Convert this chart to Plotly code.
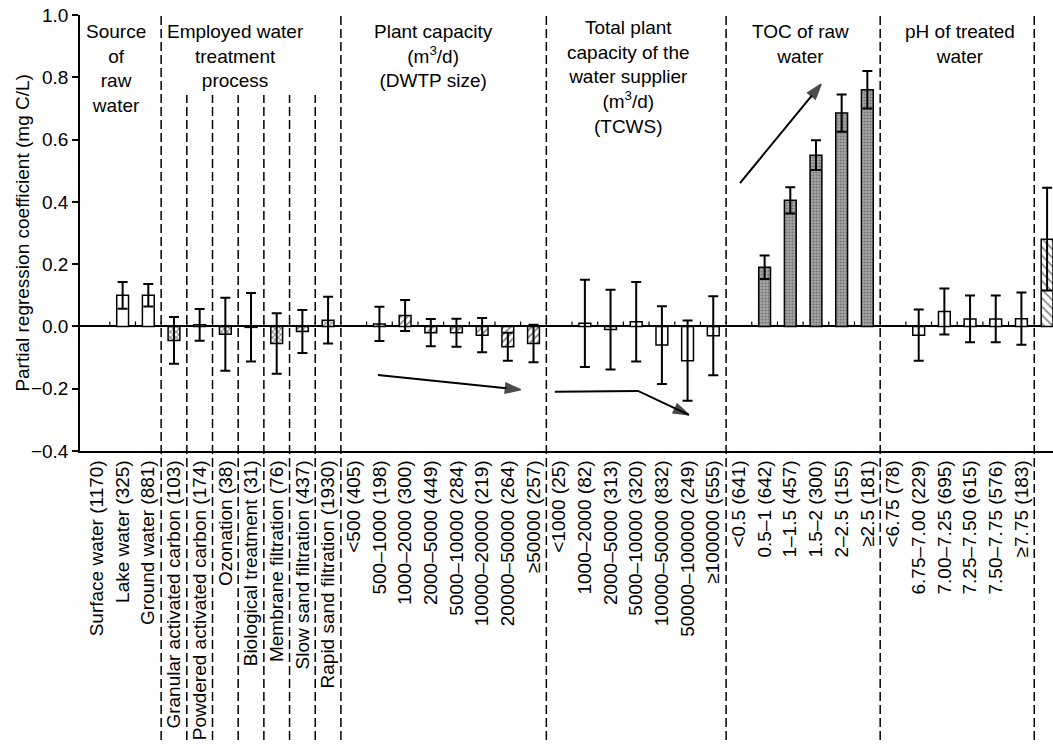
import plotly.graph_objects as go

FONT = "Liberation Sans, Arial, Helvetica, sans-serif"

# ---- Data: partial regression coefficients (mg C/L) with error half-widths ----
# None marks the reference category of each variable (no bar drawn)
source_labels = ["Surface water (1170)", "Lake water (325)", "Ground water (881)"]
source_coef = [None, 0.10, 0.10]
source_err = [None, 0.043, 0.036]

process_labels = ["Granular activated carbon (103)", "Powdered activated carbon (174)",
                  "Ozonation (38)", "Biological treatment (31)", "Membrane filtration (76)",
                  "Slow sand filtration (437)", "Rapid sand filtration (1930)"]
process_coef = [-0.045, 0.005, -0.025, -0.003, -0.055, -0.016, 0.02]
process_err = [0.075, 0.051, 0.117, 0.11, 0.097, 0.069, 0.075]

capacity_labels = ["<500 (405)", "500–1000 (198)", "1000–2000 (300)", "2000–5000 (449)",
                   "5000–10000 (284)", "10000–20000 (219)", "20000–50000 (264)", "≥50000 (257)"]
capacity_coef = [None, 0.008, 0.035, -0.02, -0.02, -0.028, -0.065, -0.055]
capacity_err = [None, 0.055, 0.05, 0.044, 0.045, 0.055, 0.045, 0.06]

tcws_labels = ["<1000 (25)", "1000–2000 (82)", "2000–5000 (313)", "5000–10000 (320)",
               "10000–50000 (832)", "50000–100000 (249)", "≥100000 (555)"]
tcws_coef = [None, 0.01, -0.01, 0.015, -0.06, -0.11, -0.03]
tcws_err = [None, 0.14, 0.128, 0.128, 0.125, 0.129, 0.127]

toc_labels = ["<0.5 (641)", "0.5–1 (642)", "1–1.5 (457)", "1.5–2 (300)", "2–2.5 (155)", "≥2.5 (181)"]
toc_coef = [None, 0.19, 0.405, 0.55, 0.685, 0.76]
toc_err = [None, 0.038, 0.042, 0.048, 0.06, 0.06]

ph_labels = ["<6.75 (78)", "6.75–7.00 (229)", "7.00–7.25 (695)", "7.25–7.50 (615)",
             "7.50–7.75 (576)", "≥7.75 (183)"]
ph_coef = [None, -0.028, 0.048, 0.024, 0.024, 0.025]
ph_err = [None, 0.082, 0.074, 0.075, 0.075, 0.084]

const_labels = ["Constant"]
const_coef = [0.28]
const_err = [0.165]

# Group headers (text, horizontal centre in category units, top in paper units)
headers = [
    ("Source<br>of<br>raw<br>water", 0.75, 0.99),
    ("Employed water<br>treatment<br>process", 5.4, 0.99),
    ("Plant capacity<br>(m<sup>3</sup>/d)<br>(DWTP size)", 13.1, 0.99),
    ("Total plant<br>capacity of the<br>water supplier<br>(m<sup>3</sup>/d)<br>(TCWS)", 20.7, 1.0),
    ("TOC of raw<br>water", 27.4, 0.99),
    ("pH of treated<br>water", 33.6, 0.99),
]

Y_TITLE = "Partial regression coefficient (mg C/L)"

# Trend arrows as paths (x list, y list) in category / coefficient units; head at the last point
trend_paths = [
    ([10.94, 16.5], [-0.156, -0.203]),
    ([17.83, 21.07, 23.05], [-0.21, -0.207, -0.284]),
    ([25.04, 28.2], [0.46, 0.778]),
]

hollow = dict(color="white", line=dict(color="black", width=1.5))
styles = {
    "source": hollow,
    "process": dict(color="white", line=dict(color="black", width=1.5),
                    pattern=dict(shape="x", fgcolor="#111", bgcolor="white", size=4, solidity=0.45)),
    "capacity": dict(color="white", line=dict(color="black", width=1.5),
                     pattern=dict(shape="/", fgcolor="#111", bgcolor="white", size=5, solidity=0.35)),
    "tcws": hollow,
    "toc": dict(color="#8f8f8f", line=dict(color="black", width=1.5),
                pattern=dict(shape=".", fgcolor="#3a3a3a", bgcolor="#a8a8a8", size=3, solidity=0.4)),
    "ph": hollow,
    "const": dict(color="white", line=dict(color="black", width=1.5),
                  pattern=dict(shape="\\", fgcolor="#111", bgcolor="white", size=6, solidity=0.3)),
}

groups = [
    ("source", source_labels, source_coef, source_err),
    ("process", process_labels, process_coef, process_err),
    ("capacity", capacity_labels, capacity_coef, capacity_err),
    ("tcws", tcws_labels, tcws_coef, tcws_err),
    ("toc", toc_labels, toc_coef, toc_err),
    ("ph", ph_labels, ph_coef, ph_err),
    ("const", const_labels, const_coef, const_err),
]

fig = go.Figure()
all_labels = []
group_bounds = []
start = 0
for name, labels, coef, err in groups:
    xs = list(range(start, start + len(labels)))
    fig.add_trace(go.Bar(
        x=xs, y=coef, width=0.46, marker=styles[name],
        error_y=dict(type="data", array=err, symmetric=True, color="black",
                     thickness=2, width=5),
        showlegend=False, hoverinfo="skip",
    ))
    all_labels += labels
    start += len(labels)
    group_bounds.append(start - 0.5)

# Trend arrows: line with a filled arrow-head marker oriented along the last segment
for px, py in trend_paths:
    sizes = [0] * (len(px) - 1) + [16]
    fig.add_trace(go.Scatter(
        x=px, y=py, mode="lines+markers",
        line=dict(color="black", width=2),
        marker=dict(symbol="arrow", angleref="previous", size=sizes, color="black",
                    line=dict(color="black", width=1.5)),
        showlegend=False, hoverinfo="skip",
    ))

n = len(all_labels)
shapes = []

# Small ticks on the zero line between categories
for i in range(n - 1):
    b = i + 0.5
    shapes.append(dict(type="line", xref="x", yref="y", x0=b, x1=b, y0=0, y1=0.016,
                       line=dict(color="black", width=1.2)))

# Dashed separators between variables, extending through the label area
dash = "9px,4px"
for b in group_bounds[:-1]:
    shapes.append(dict(type="line", xref="x", yref="paper", x0=b, x1=b, y0=-0.663, y1=1.005,
                       line=dict(color="black", width=1.5, dash=dash)))
# Separators between the individual treatment processes
p0 = len(source_labels)
for i in range(p0, p0 + len(process_labels) - 1):
    b = i + 0.5
    shapes.append(dict(type="line", xref="x", yref="paper", x0=b, x1=b, y0=-0.663, y1=0.8165,
                       line=dict(color="black", width=1.5, dash=dash)))

annotations = []
for text, xc, yt in headers:
    annotations.append(dict(text=text, x=xc, y=yt, xref="x", yref="paper",
                            xanchor="center", yanchor="top", showarrow=False,
                            font=dict(family=FONT, size=19, color="black")))
# Y-axis title placed close to the tick labels
annotations.append(dict(text=Y_TITLE, x=-0.06, y=0.5, xref="paper", yref="paper",
                        xanchor="center", yanchor="middle", textangle=-90, showarrow=False,
                        font=dict(family=FONT, size=19, color="black")))

fig.update_layout(
    width=1053, height=750,
    margin=dict(l=80, r=0, t=15, b=299),
    paper_bgcolor="white", plot_bgcolor="white",
    barmode="overlay",
    font=dict(family=FONT, size=19, color="black"),
    shapes=shapes, annotations=annotations,
    xaxis=dict(
        range=[-0.66, n - 0.77],
        tickmode="array", tickvals=list(range(n)), ticktext=all_labels,
        tickangle=-90, ticks="", showgrid=False, zeroline=False,
        showline=True, linecolor="black", linewidth=1.5,
        tickfont=dict(family=FONT, size=19, color="black"),
    ),
    yaxis=dict(
        range=[-0.4, 1.0], dtick=0.2, tickformat=".1f",
        ticks="outside", ticklen=6, tickwidth=1.5, tickcolor="black",
        showline=True, linecolor="black", linewidth=1.5, showgrid=False,
        zeroline=True, zerolinecolor="black", zerolinewidth=1.5,
        tickfont=dict(family=FONT, size=19, color="black"),
    ),
)

fig.write_html("out.html")
